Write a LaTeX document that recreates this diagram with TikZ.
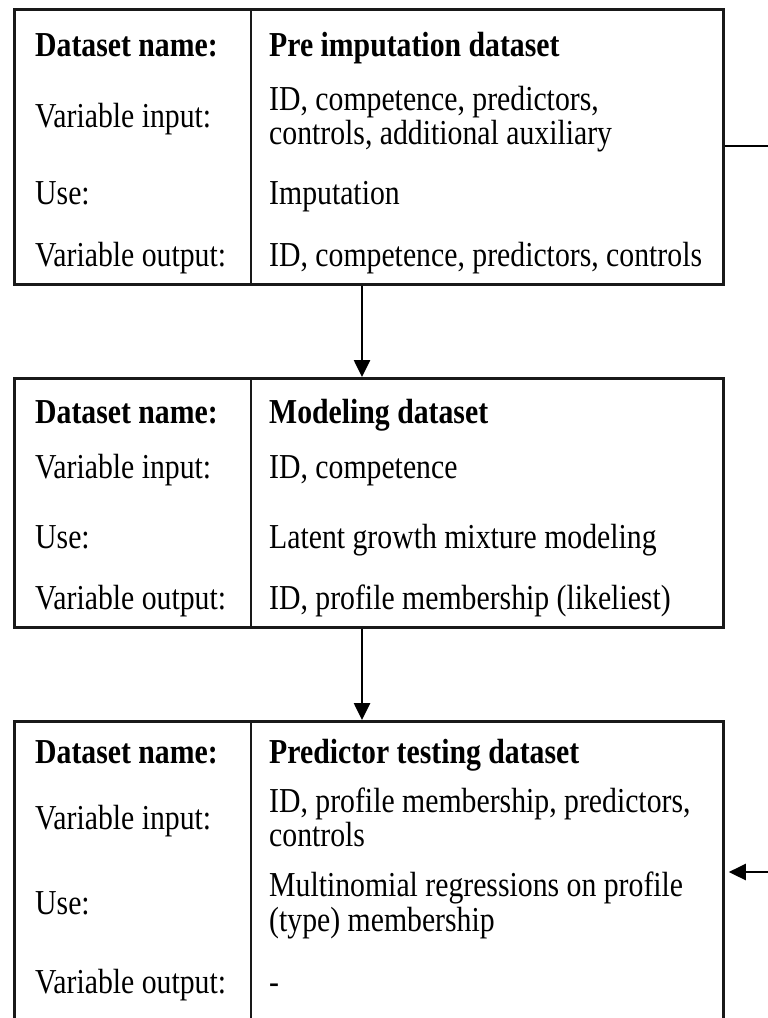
\documentclass[tikz,border=0pt]{standalone}
\usepackage{fontspec}
\setmainfont{Liberation Serif}[FakeStretch=0.85]
\usetikzlibrary{arrows.meta}
\begin{document}
\begin{tikzpicture}[x=1pt,y=-1pt,
  box/.style={draw=black!90,line width=2.8pt,rectangle,inner sep=0pt,anchor=north west,minimum width=709pt},
  divider/.style={draw=black!90,line width=2.8pt},
  lbl/.style={anchor=base west,inner sep=0pt,font=\fontsize{35}{38}\selectfont},
  hdr/.style={lbl,font=\fontsize{35}{38}\selectfont\bfseries},
  conn/.style={draw=black,line width=2.6pt},
  arr/.style={conn,-{Triangle[length=17pt,width=16pt]}}
]
\useasboundingbox (0,0) rectangle (768,1018);
\clip (0,0) rectangle (768,1018);
\fill[white] (0,0) rectangle (768,1018);

% boxes
\node[box,minimum height=275pt] (b1) at (13,8) {};
\node[box,minimum height=249pt] (b2) at (13,377) {};
\node[box,minimum height=340pt] (b3) at (13,720) {};
\draw[divider] (b1.north west -| 251,0) -- (b1.south west -| 251,0);
\draw[divider] (b2.north west -| 251,0) -- (b2.south west -| 251,0);
\draw[divider] (b3.north west -| 251,0) -- (b3.south west -| 251,0);

% box 1
\node[hdr] (b1n) at (35,56) {Dataset name:};
\node[hdr] (b1nv) at (269,56) {Pre imputation dataset};
\node[lbl] (b1i) at (35,127) {Variable input:};
\node[lbl] (b1iv1) at (269,110) {ID, competence, predictors,};
\node[lbl] (b1iv2) at (269,144) {controls, additional auxiliary};
\node[lbl] (b1u) at (35,204) {Use:};
\node[lbl] (b1uv) at (269,204) {Imputation};
\node[lbl] (b1o) at (35,266) {Variable output:};
\node[lbl] (b1ov) at (269,266) {ID, competence, predictors, controls};

% box 2
\node[hdr] (b2n) at (35,423) {Dataset name:};
\node[hdr] (b2nv) at (269,423) {Modeling dataset};
\node[lbl] (b2i) at (35,478) {Variable input:};
\node[lbl] (b2iv) at (269,478) {ID, competence};
\node[lbl] (b2u) at (35,548) {Use:};
\node[lbl] (b2uv) at (269,548) {Latent growth mixture modeling};
\node[lbl] (b2o) at (35,609) {Variable output:};
\node[lbl] (b2ov) at (269,609) {ID, profile membership (likeliest)};

% box 3
\node[hdr] (b3n) at (35,763) {Dataset name:};
\node[hdr] (b3nv) at (269,763) {Predictor testing dataset};
\node[lbl] (b3i) at (35,829) {Variable input:};
\node[lbl] (b3iv1) at (269,812) {ID, profile membership, predictors,};
\node[lbl] (b3iv2) at (269,846) {controls};
\node[lbl] (b3u) at (35,914) {Use:};
\node[lbl] (b3uv1) at (269,896) {Multinomial regressions on profile};
\node[lbl] (b3uv2) at (269,931) {(type) membership};
\node[lbl] (b3o) at (35,993) {Variable output:};
\node[lbl] (b3ov) at (269,993) {-};

% connectors
\draw[arr] (b1.south west -| 362,0) -- (b2.north west -| 362,0);
\draw[arr] (b2.south west -| 362,0) -- (b3.north west -| 362,0);
\coordinate (r1) at (768,146);
\coordinate (r3) at (768,872);
\draw[conn] (b1.east |- r1) -- (r1);
\draw[arr] (r3) -- ([xshift=4pt]b3.east |- r3);
\end{tikzpicture}
\end{document}
